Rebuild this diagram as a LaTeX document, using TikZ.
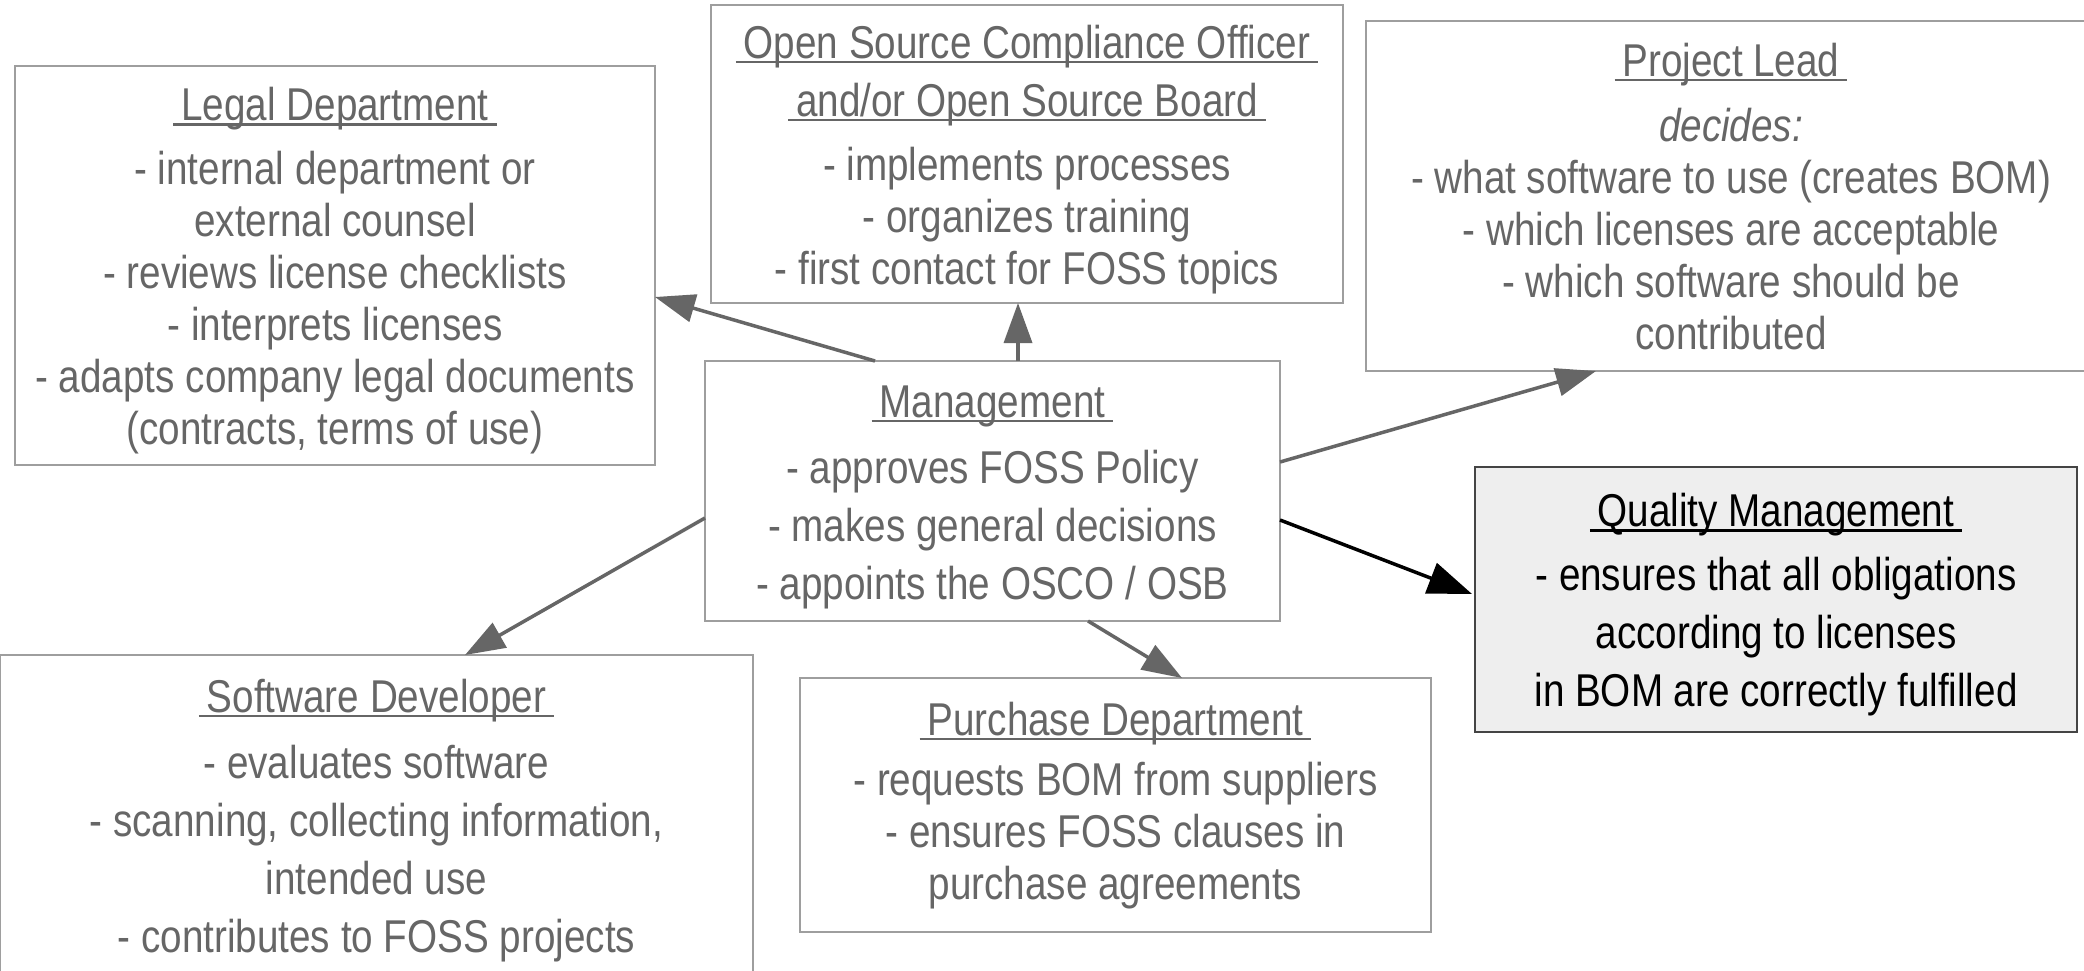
\documentclass[tikz,border=0pt]{standalone}
\usepackage{fontspec}
\setmainfont{Liberation Sans}[FakeStretch=0.84]
\usetikzlibrary{arrows.meta}

\definecolor{ink}{HTML}{666666}
\definecolor{frame}{HTML}{9E9E9E}
\definecolor{qmfill}{HTML}{EEEEEE}
\definecolor{qmframe}{HTML}{444444}

% underlined heading, the rule running under a space on either side
\newsavebox\headbox
\newcommand\headline[1]{\sbox\headbox{\hspace{8pt}#1\hspace{8pt}}%
  \rlap{\rule[-5pt]{\wd\headbox}{2.5pt}}\usebox\headbox}
% extra head room above the first line of a box
\newcommand\lift[1][44pt]{\rule{0pt}{#1}}

\tikzset{
  rolebox/.style={draw=frame, line width=1.5pt, inner sep=0pt, outer sep=0pt,
    align=center, text=ink, font=\fontsize{46pt}{52pt}\selectfont},
  loose/.style={font=\fontsize{46pt}{58pt}\selectfont},
  qualitybox/.style={draw=qmframe, fill=qmfill, text=black},
  arr/.style={draw=ink, line width=3.5pt, -{Triangle[length=40pt,width=28pt]}},
  strongarr/.style={draw=black, line width=3.5pt, -{Triangle[length=44pt,width=32pt]}}
}

\begin{document}
\begin{tikzpicture}[x=1pt,y=-1pt]
\useasboundingbox[fill=white] (0,0) rectangle (2084,971);

\node[rolebox, minimum width=640pt, minimum height=399pt] (legal) at (335,265.5)
  {\lift\headline{Legal Department}\\[12pt]
   - internal department or\\
   external counsel\\
   - reviews license checklists\\
   - interprets licenses\\
   - adapts company legal documents\\
   (contracts, terms of use)};

\node[rolebox, minimum width=632pt, minimum height=298pt] (osco) at (1027,154)
  {\lift\headline{Open Source Compliance Officer}\\[6pt]
   \headline{and/or Open Source Board}\\[12pt]
   - implements processes\\
   - organizes training\\
   - first contact for FOSS topics};

\node[rolebox, minimum width=730pt, minimum height=350pt] (lead) at (1731,196)
  {\lift[34pt]\headline{Project Lead}\\[13pt]
   \textit{decides:}\\
   - what software to use (creates BOM)\\
   - which licenses are acceptable\\
   - which software should be\\
   contributed};

\node[rolebox, loose, minimum width=575pt, minimum height=260pt] (mgmt) at (992.5,491)
  {\lift\headline{Management}\\[8pt]
   - approves FOSS Policy\\
   - makes general decisions\\
   - appoints the OSCO / OSB};

\node[rolebox, loose, qualitybox, minimum width=602pt, minimum height=265pt] (qm) at (1776,599.5)
  {\lift\headline{Quality Management}\\[6pt]
   - ensures that all obligations\\
   according to licenses\\
   in BOM are correctly fulfilled};

\node[rolebox, loose, minimum width=753pt, minimum height=320pt] (dev) at (376.5,815)
  {\lift\headline{Software Developer}\\[8pt]
   - evaluates software\\
   - scanning, collecting information,\\
   intended use\\
   - contributes to FOSS projects};

\node[rolebox, minimum width=631pt, minimum height=254pt] (purchase) at (1115.5,805)
  {\lift[34pt]\headline{Purchase Department}\\[8pt]
   - requests BOM from suppliers\\
   - ensures FOSS clauses in\\
   purchase agreements};

% responsibilities handed out by management
\draw[arr] ([xshift=170pt]mgmt.north west) -- ([yshift=-31.5pt]legal.east);
\draw[arr] ([xshift=313pt]mgmt.north west) -- ([xshift=-9pt]osco.south);
\draw[arr] ([yshift=29pt]mgmt.east) -- ([xshift=-135pt]lead.south);
\draw[strongarr] ([yshift=-29pt]mgmt.east) -- ([yshift=5.5pt,xshift=-3pt]qm.west);
\draw[arr] ([yshift=-27pt]mgmt.west) -- ([xshift=88.5pt]dev.north);
\draw[arr] ([xshift=95.5pt]mgmt.south) -- ([xshift=66.5pt]purchase.north);
\end{tikzpicture}
\end{document}
